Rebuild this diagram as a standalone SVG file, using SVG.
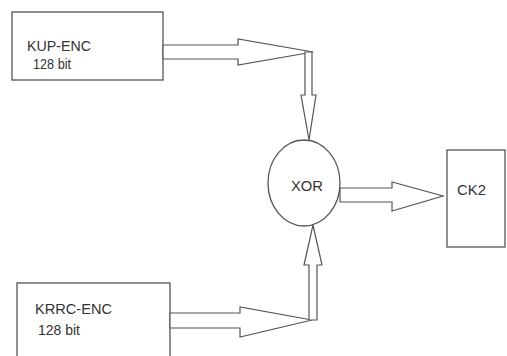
<svg xmlns="http://www.w3.org/2000/svg" width="507" height="356" viewBox="0 0 507 356">
<style>
.box{fill:#fff;stroke:#555;stroke-width:1.3}
.arr{fill:#fff;stroke:#555;stroke-width:1.2;stroke-linejoin:miter}
.t{font-family:"Liberation Sans",Arial,sans-serif;font-size:15px;fill:#333}
</style>
<rect width="507" height="356" fill="#fff"/>
<g id="kup">
<rect class="box" x="12" y="12" width="151" height="68"/>
<text class="t" x="27" y="51" textLength="64" lengthAdjust="spacingAndGlyphs">KUP-ENC</text>
<text class="t" x="33" y="69" textLength="38" lengthAdjust="spacingAndGlyphs">128 bit</text>
</g>
<g id="krrc">
<rect class="box" x="17" y="283" width="153" height="80"/>
<text class="t" x="35" y="314" textLength="77" lengthAdjust="spacingAndGlyphs">KRRC-ENC</text>
<text class="t" x="38" y="335" textLength="42" lengthAdjust="spacingAndGlyphs">128 bit</text>
</g>
<g id="xor">
<ellipse class="box" cx="304" cy="183" rx="36" ry="43"/>
<text class="t" x="291" y="191" textLength="32" lengthAdjust="spacingAndGlyphs">XOR</text>
</g>
<g id="ck2">
<rect class="box" x="447" y="150" width="58" height="97"/>
<text class="t" x="457" y="195" textLength="29" lengthAdjust="spacingAndGlyphs">CK2</text>
</g>
<g id="connectors">
<polygon class="arr" points="163,45 238,45 238,39 313,52 238,65 238,59 163,59"/>
<polygon class="arr" points="305,52 312,52 312,95 316,95 309,140 301,95 305,95"/>
<polygon class="arr" points="170,313 240,313 240,307 312,320 240,337 240,328 170,328"/>
<polygon class="arr" points="309,320 309,265 304,265 313,225 322,265 317,265 317,320"/>
<polygon class="arr" points="340,188 392,188 392,182 443,196 392,211 392,202 340,202"/>
</g>
</svg>
